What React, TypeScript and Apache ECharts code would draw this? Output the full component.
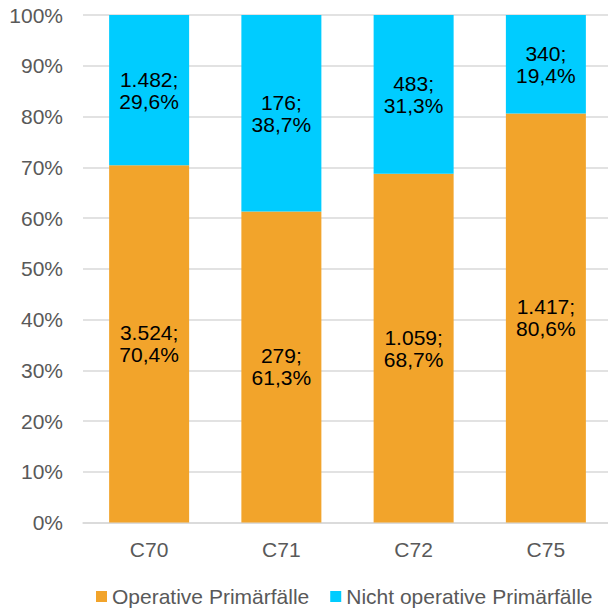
import React, { useEffect, useRef } from "react";
import * as echarts from "echarts";

const categories = ["C70", "C71", "C72", "C75"];
const operativeCounts = ["3.524", "279", "1.059", "1.417"];
const operativePct = [70.4, 61.3, 68.7, 80.6];
const nonOperativeCounts = ["1.482", "176", "483", "340"];
const nonOperativePct = [29.6, 38.7, 31.3, 19.4];
const yTicks = [0, 10, 20, 30, 40, 50, 60, 70, 80, 90, 100];

const FONT = "'Liberation Sans', Arial, sans-serif";
const fmtPct = (v: number) => v.toFixed(1).replace(".", ",") + "%";

export default function App() {
  const ref = useRef<HTMLDivElement>(null);
  useEffect(() => {
    if (!ref.current) return;
    const chart = echarts.init(ref.current, null, { renderer: "svg" });
    chart.setOption({
      animation: false,
      textStyle: { fontFamily: FONT },
      grid: { left: 83, top: 15, width: 529, bottom: 87.5, containLabel: false, outerBoundsMode: "none" },
      legend: {
        left: 91,
        top: 581,
        itemWidth: 11,
        itemHeight: 11,
        itemGap: 21,
        icon: "rect",
        textStyle: { fontFamily: FONT, fontSize: 21, color: "#595959" },
        data: ["Operative Primärfälle", "Nicht operative Primärfälle"],
      },
      xAxis: {
        type: "category",
        data: categories,
        axisLine: { lineStyle: { color: "#D9D9D9", width: 1.5 } },
        axisTick: { show: false },
        axisLabel: { fontFamily: FONT, fontSize: 21, color: "#595959", margin: 16 },
      },
      yAxis: {
        type: "value",
        min: yTicks[0],
        max: yTicks[yTicks.length - 1],
        interval: 10,
        axisLine: { show: false },
        axisTick: { show: false },
        splitLine: { lineStyle: { color: "#D9D9D9", width: 1.5 } },
        axisLabel: {
          fontFamily: FONT,
          fontSize: 21,
          color: "#595959",
          margin: 20,
          formatter: (v: number) => v + "%",
        },
      },
      series: [
        {
          name: "Operative Primärfälle",
          type: "bar",
          stack: "total",
          barWidth: 80,
          itemStyle: { color: "#F2A42B" },
          data: operativePct,
          label: {
            show: true,
            position: "inside",
            fontFamily: FONT,
            fontSize: 21,
            color: "#000000",
            lineHeight: 22,
            formatter: (p: any) => operativeCounts[p.dataIndex] + ";\n" + fmtPct(operativePct[p.dataIndex]),
          },
        },
        {
          name: "Nicht operative Primärfälle",
          type: "bar",
          stack: "total",
          barWidth: 80,
          itemStyle: { color: "#00CCFF" },
          data: nonOperativePct,
          label: {
            show: true,
            position: "inside",
            fontFamily: FONT,
            fontSize: 21,
            color: "#000000",
            lineHeight: 22,
            formatter: (p: any) => nonOperativeCounts[p.dataIndex] + ";\n" + fmtPct(nonOperativePct[p.dataIndex]),
          },
        },
      ],
    });
    return () => chart.dispose();
  }, []);
  return <div ref={ref} style={{ width: 608, height: 610, position: "absolute", left: 0, top: 0 }} />;
}
